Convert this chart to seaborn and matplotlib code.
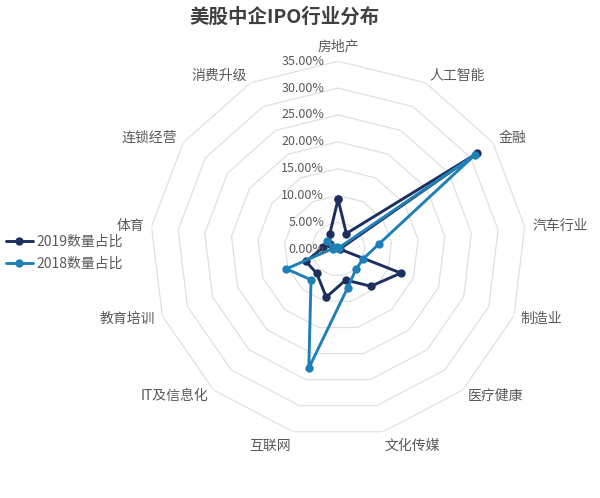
import numpy as np
import pandas as pd
import seaborn as sns
import matplotlib.pyplot as plt

# categories clockwise from the top
categories = ['房地产', '人工智能', '金融', '汽车行业', '制造业', '医疗健康', '文化传媒',
              '互联网', 'IT及信息化', '教育培训', '体育', '连锁经营', '消费升级']
share_2019 = [9.3, 3.3, 31.4, 0.3, 12.5, 9.2, 5.9, 9.2, 6.0, 6.4, 2.8, 1.8, 3.3]
share_2018 = [0.2, 0.3, 31.0, 7.6, 5.0, 5.0, 7.4, 22.8, 7.6, 10.3, 1.0, 2.6, 0.5]
series_names = ['2019数量占比', '2018数量占比']
r_ticks = [0, 5, 10, 15, 20, 25, 30, 35]

sns.set_theme(style='white')
plt.rcParams['font.family'] = ['Noto Sans CJK SC', 'DejaVu Sans']

n = len(categories)
theta = np.linspace(0, 2 * np.pi, n, endpoint=False)
theta_closed = np.append(theta, 2 * np.pi)

# long table, each series closed back to its first point
rows = []
for name, vals in zip(series_names, [share_2019, share_2018]):
    closed = list(vals) + [vals[0]]
    for i, (t, v) in enumerate(zip(theta_closed, closed)):
        rows.append({'order': i, 'theta': t, 'value': v, 'series': name})
df = pd.DataFrame(rows)

fig = plt.figure(figsize=(6, 4.98), dpi=100)
ax = fig.add_axes([0.25, 0.122, 0.627, 0.755], projection='polar')
ax.set_theta_offset(np.pi / 2)
ax.set_theta_direction(-1)
ax.set_ylim(0, 35)
ax.grid(False)
ax.spines['polar'].set_visible(False)
ax.set_xticks([])
ax.set_yticks([])

# polygon grid
for lv in r_ticks[1:]:
    ax.plot(theta_closed, [lv] * (n + 1), color='#e0e0e0', lw=0.9, zorder=0)

palette = {'2019数量占比': '#1c2f5e', '2018数量占比': '#1f80b8'}
sns.lineplot(data=df, x='theta', y='value', hue='series', units='series',
             estimator=None, sort=False, palette=palette, marker='o',
             markersize=6, markeredgewidth=0, lw=2.1, ax=ax, legend=True)
ax.set_xlabel('')
ax.set_ylabel('')

# radial tick labels on the vertical axis
for lv in r_ticks:
    ax.annotate(f'{lv:.2f}%', xy=(0, lv), xytext=(-10, 0), textcoords='offset points',
                ha='right', va='center', fontsize=9, color='#595959')

# category labels
for t, lab in zip(theta, categories):
    ang = np.pi / 2 - t
    c, s = np.cos(ang), np.sin(ang)
    ha = 'left' if c > 0.1 else ('right' if c < -0.1 else 'center')
    if s > 0.95:
        va = 'bottom'
    elif s < -0.95:
        va = 'top'
    else:
        va = 'center'
    ax.text(t, 36.4, lab, ha=ha, va=va, fontsize=10, color='#595959')

handles, labels = ax.get_legend_handles_labels()
ax.legend(handles, labels, loc='center left', bbox_to_anchor=(0.0, 0.492),
          bbox_transform=fig.transFigure, frameon=False, fontsize=10,
          handlelength=2.0, handletextpad=0.2, labelspacing=0.6,
          labelcolor='#595959', borderaxespad=0)

fig.text(0.475, 0.965, '美股中企IPO行业分布', ha='center', va='center',
         fontsize=14, fontweight='bold', color='#404040')

fig.savefig('out.png', dpi=100)
